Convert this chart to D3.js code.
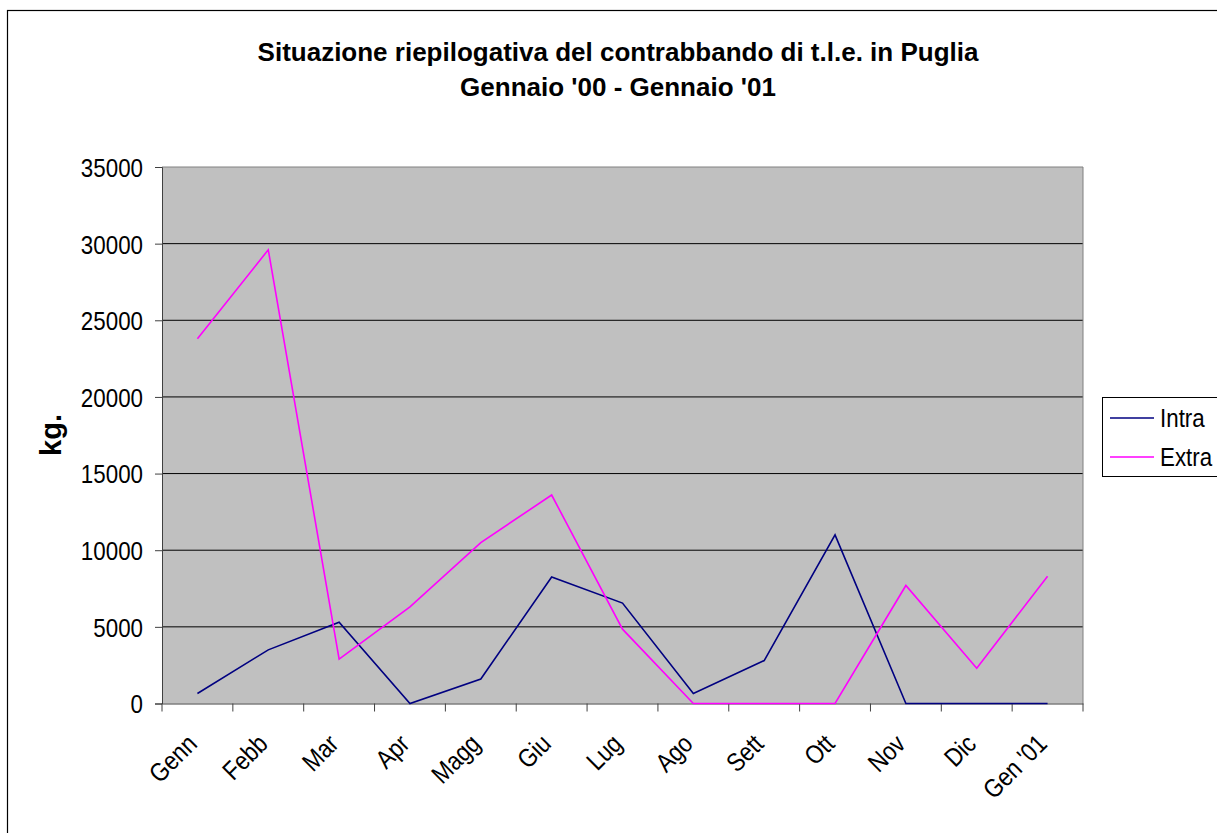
<!DOCTYPE html>
<html><head><meta charset="utf-8">
<script src="https://cdn.jsdelivr.net/npm/d3@7"></script>
<style>body{margin:0;background:#fff;} svg{display:block;font-family:"Liberation Sans",Arial,sans-serif;}</style>
</head><body>
<svg id="c" width="1217" height="833"></svg>
<script>
const categories = ["Genn","Febb","Mar","Apr","Magg","Giu","Lug","Ago","Sett","Ott","Nov","Dic","Gen '01"];
const intra = [650, 3500, 5300, 0, 1600, 8250, 6550, 650, 2800, 11000, 0, 0, 0];
const extra = [23800, 29600, 2900, 6300, 10500, 13600, 4850, 0, 0, 0, 7700, 2300, 8300];
const yTicks = [0, 5000, 10000, 15000, 20000, 25000, 30000, 35000];
const seriesNames = ["Intra", "Extra"];
const seriesColors = ["#000080", "#FF00FF"];
const titleLines = ["Situazione riepilogativa del contrabbando di t.l.e. in Puglia", "Gennaio '00 - Gennaio '01"];

const svg = d3.select("#c");
const L = 162, R = 1083, T = 167, B = 703.5;
const SQ = 0.86;

// outer frame
svg.append("rect").attr("x",7.5).attr("y",10.5).attr("width",1240).attr("height",860)
  .attr("fill","none").attr("stroke","#000").attr("stroke-width",1.2);

const x = d3.scaleBand().domain(categories).range([L, R]).padding(0);
const y = d3.scaleLinear().domain([0, 35000]).range([B, T]);

svg.append("rect").attr("x",L).attr("y",T).attr("width",R-L).attr("height",B-T).attr("fill","#C0C0C0");

// gridlines
svg.append("g").selectAll("line").data(yTicks.filter(d=>d>0)).join("line")
  .attr("x1",L).attr("x2",R).attr("y1",d=>y(d)).attr("y2",d=>y(d))
  .attr("stroke",d=>d===35000?"#808080":"#000").attr("stroke-width",1);
// right border
svg.append("line").attr("x1",R).attr("x2",R).attr("y1",T).attr("y2",B).attr("stroke","#808080");

// y axis
const yAxis = d3.axisLeft(y).tickValues(yTicks).tickSize(7).tickPadding(0).tickFormat(d3.format("d"));
const ga = svg.append("g").attr("transform",`translate(${L},0)`).call(yAxis);
ga.select(".domain").attr("stroke","#404040");
ga.selectAll(".tick line").attr("stroke","#404040");
ga.selectAll(".tick text").attr("x",null).attr("transform",`translate(-19,0) scale(${SQ},1)`)
  .attr("font-size",26).attr("fill","#000").attr("font-family","Liberation Sans, Arial, sans-serif").attr("dy","0.36em");

// x axis
const xAxis = d3.axisBottom(x).tickSize(0).tickFormat("");
const gx = svg.append("g").attr("transform",`translate(0,${B})`).call(xAxis);
gx.select(".domain").attr("stroke","#404040").attr("stroke-width",1.2);
const bounds = categories.map(c=>x(c)).concat([R]);
svg.append("g").selectAll("line").data(bounds).join("line")
  .attr("x1",d=>d).attr("x2",d=>d).attr("y1",B).attr("y2",B+8).attr("stroke","#404040");
svg.append("g").selectAll("text").data(categories).join("text")
  .attr("transform",d=>`translate(${x(d)+x.bandwidth()/2+1},${B+42}) rotate(-45) scale(${SQ},1)`)
  .attr("text-anchor","end").attr("font-size",26).attr("fill","#000").text(d=>d);

// lines
const line = d3.line().x((d,i)=>x(categories[i])+x.bandwidth()/2).y(d=>y(d));
[intra, extra].forEach((s,k)=>{
  svg.append("path").datum(s).attr("d",line).attr("fill","none")
    .attr("stroke",seriesColors[k]).attr("stroke-width",1.6).attr("stroke-linejoin","miter");
});

// title
titleLines.forEach((t,i)=>{
  svg.append("text").attr("x",618).attr("y",61+i*35).attr("text-anchor","middle")
    .attr("font-size",26).attr("font-weight","bold").text(t);
});

// y label
svg.append("text").attr("transform","translate(61,435) rotate(-90)").attr("text-anchor","middle")
  .attr("font-size",29).attr("font-weight","bold").text("kg.");

// legend
svg.append("rect").attr("x",1102.5).attr("y",397.5).attr("width",130).attr("height",79)
  .attr("fill","#fff").attr("stroke","#000").attr("stroke-width",1);
seriesNames.forEach((n,i)=>{
  const yy = 418 + i*39;
  svg.append("line").attr("x1",1110).attr("x2",1154).attr("y1",yy).attr("y2",yy)
    .attr("stroke",seriesColors[i]).attr("stroke-width",1.6);
  svg.append("text").attr("transform",`translate(1160,${yy+9}) scale(${SQ},1)`).attr("font-size",26).text(n);
});
</script>
</body></html>
